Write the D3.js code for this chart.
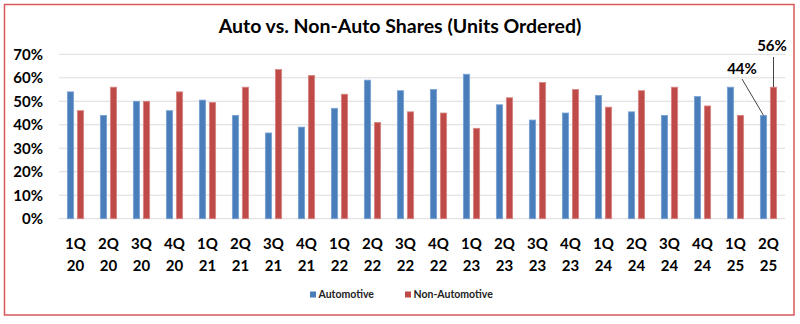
<!DOCTYPE html>
<html>
<head>
<meta charset="utf-8">
<script src="https://cdn.jsdelivr.net/npm/d3@7"></script>
<style>
  html, body { margin: 0; padding: 0; background: #fff; }
  svg { display: block; }
  text { font-family: Lato, "Open Sans", sans-serif; }
</style>
</head>
<body>
<svg id="chart" width="800" height="324"></svg>
<script>
const quarters = ["1Q","2Q","3Q","4Q","1Q","2Q","3Q","4Q","1Q","2Q","3Q","4Q","1Q","2Q","3Q","4Q","1Q","2Q","3Q","4Q","1Q","2Q"];
const years    = ["20","20","20","20","21","21","21","21","22","22","22","22","23","23","23","23","24","24","24","24","25","25"];
const automotive    = [54,44,50,46,50.5,44,36.5,39,47,59,54.5,55,61.5,48.5,42,45,52.5,45.5,44,52,56,44];
const nonAutomotive = [46,56,50,54,49.5,56,63.5,61,53,41,45.5,45,38.5,51.5,58,55,47.5,54.5,56,48,44,56];
const yTicks = [0,10,20,30,40,50,60,70];
const seriesNames = ["Automotive","Non-Automotive"];
const colors = ["#4a7ebb","#be4b48"];
const strokes = ["#7aa3d6","#d98785"];

(function(){
const svg = d3.select("#chart");
const mLeft = 59, mRight = 785, mTop = 54.3, mBottom = 218.7;

svg.append("rect").attr("x",4.5).attr("y",4.5).attr("width",789.5).attr("height",310.5)
  .attr("fill","#fff").attr("stroke","#d9585a").attr("stroke-width",1.5);

const cats = quarters.map((q,i)=>i);
const x = d3.scaleBand().domain(cats).range([mLeft,mRight]).paddingInner(0).paddingOuter(0);
const y = d3.scaleLinear().domain([0,70]).range([mBottom,mTop]);

// gridlines
svg.append("g").selectAll("line").data(yTicks).join("line")
  .attr("x1",mLeft).attr("x2",mRight)
  .attr("y1",d=>y(d)).attr("y2",d=>y(d))
  .attr("stroke","#dcdcdc").attr("stroke-width",1);

// y axis labels
const yAxis = d3.axisLeft(y).tickValues(yTicks).tickFormat(d=>d+"%").tickSize(0).tickPadding(0);
const gy = svg.append("g").attr("transform",`translate(43,0)`).call(yAxis);
gy.select(".domain").remove();
gy.selectAll("text").attr("font-size",15).attr("font-weight","bold").attr("fill","#000")
  .attr("font-family","Lato, 'Open Sans', sans-serif");

// bars
const bw = 6.3, off = 5;
const data = cats.map(i=>({i, vals:[automotive[i], nonAutomotive[i]]}));
const grp = svg.append("g").selectAll("g").data(data).join("g")
  .attr("transform",d=>`translate(${x(d.i)+x.bandwidth()/2},0)`);
grp.selectAll("rect").data(d=>d.vals.map((v,k)=>({v,k}))).join("rect")
  .attr("x",d=>(d.k===0?-off:off)-bw/2)
  .attr("width",bw)
  .attr("y",d=>y(d.v))
  .attr("height",d=>mBottom-y(d.v))
  .attr("fill",d=>colors[d.k])
  .attr("stroke",d=>strokes[d.k]).attr("stroke-width",0.8);

// x labels
const xl = svg.append("g").selectAll("text").data(cats).join("text")
  .attr("x",d=>x(d)+x.bandwidth()/2)
  .attr("text-anchor","middle").attr("font-size",15).attr("font-weight","bold").attr("fill","#000");
xl.append("tspan").attr("x",d=>x(d)+x.bandwidth()/2).attr("y",249).text(d=>quarters[d]);
xl.append("tspan").attr("x",d=>x(d)+x.bandwidth()/2).attr("y",271).text(d=>years[d]);

// title
svg.append("text").attr("x",400).attr("y",33).attr("text-anchor","middle")
  .attr("font-size",19.5).attr("font-weight","bold").attr("fill","#000")
  .text("Auto vs. Non-Auto Shares (Units Ordered)");

// annotations for the last quarter
const last = cats.length-1;
const cx = x(last)+x.bandwidth()/2;
const blueTop = y(automotive[last]), redTop = y(nonAutomotive[last]);
svg.append("line").attr("x1",742).attr("y1",79).attr("x2",cx-off).attr("y2",blueTop)
  .attr("stroke","#444").attr("stroke-width",1);
svg.append("line").attr("x1",cx+off).attr("y1",57).attr("x2",cx+off).attr("y2",redTop)
  .attr("stroke","#444").attr("stroke-width",1);
svg.append("text").attr("x",742).attr("y",73.5).attr("text-anchor","middle")
  .attr("font-size",15).attr("font-weight","bold").text(d3.format(".0f")(automotive[last])+"%");
svg.append("text").attr("x",772).attr("y",51).attr("text-anchor","middle")
  .attr("font-size",15).attr("font-weight","bold").text(d3.format(".0f")(nonAutomotive[last])+"%");

// legend
const legX = [310, 405];
const lg = svg.append("g").selectAll("g").data(seriesNames).join("g")
  .attr("transform",(d,i)=>`translate(${legX[i]},295)`);
lg.append("rect").attr("x",0).attr("y",-3.5).attr("width",6).attr("height",6).attr("fill",(d,i)=>colors[i]);
lg.append("text").attr("x",8.5).attr("y",3.2).attr("font-size",10.5).attr("font-weight","bold").attr("fill","#222").text(d=>d);
})();
</script>
</body>
</html>
